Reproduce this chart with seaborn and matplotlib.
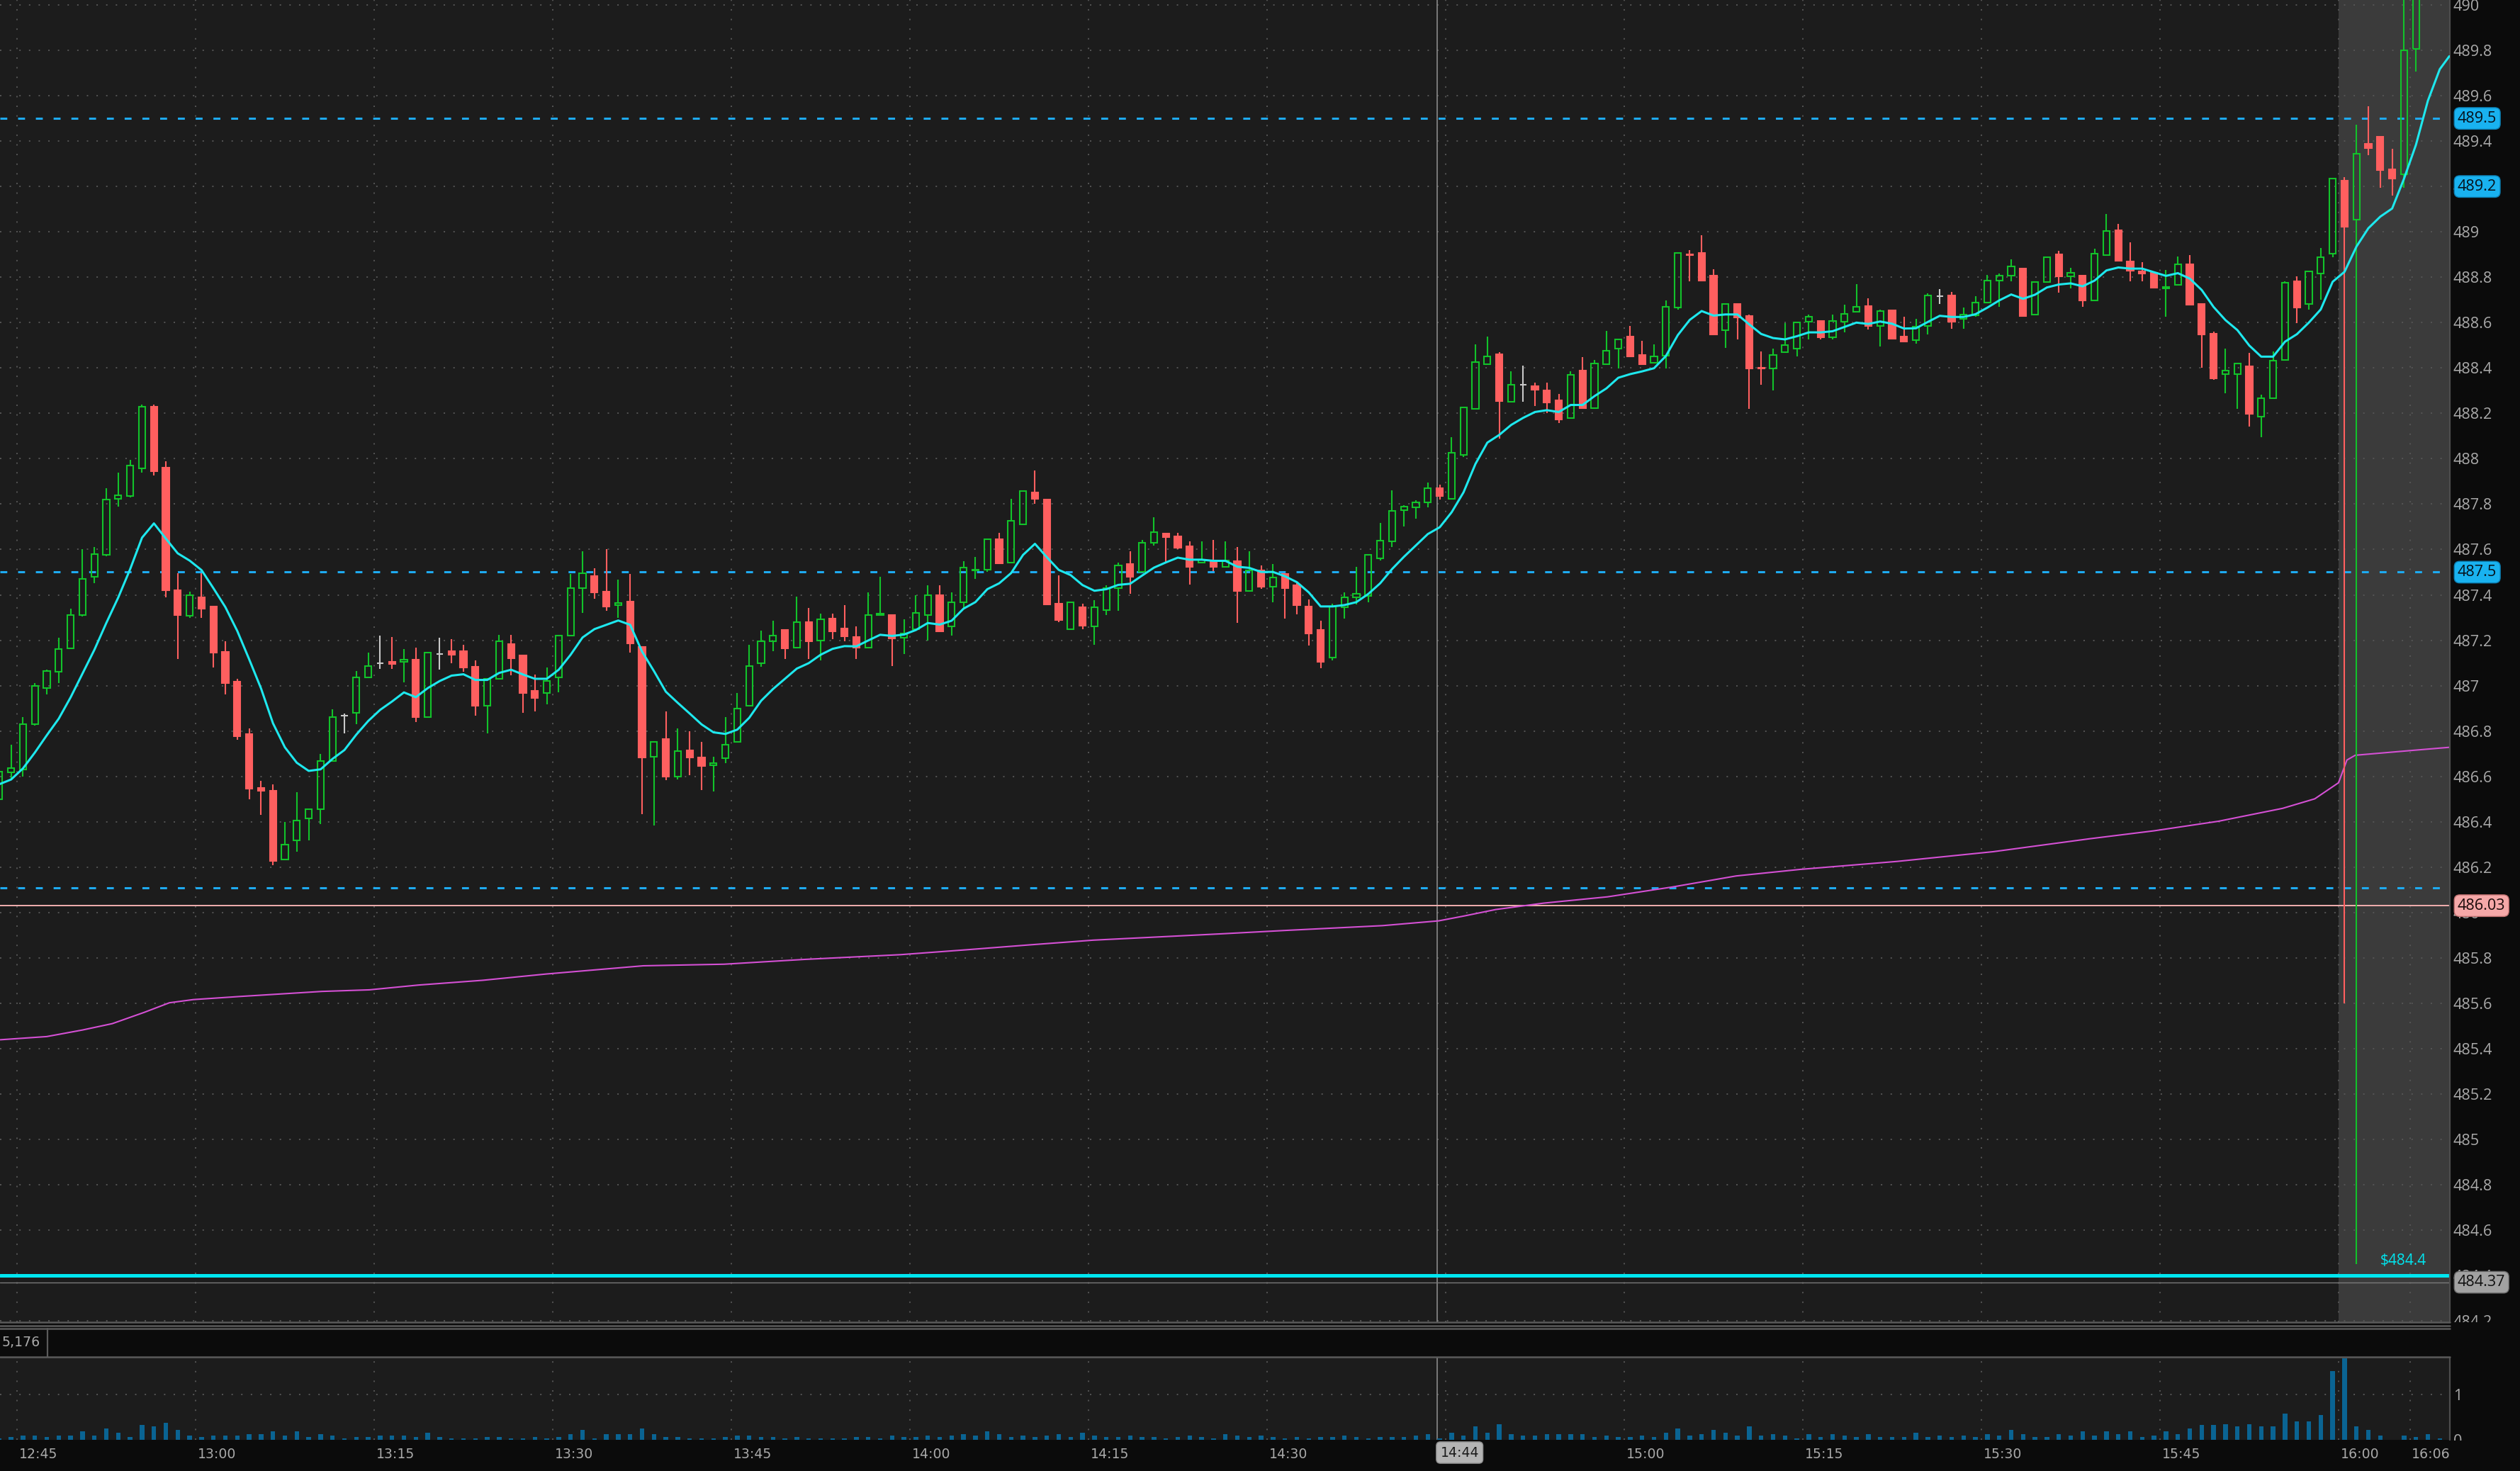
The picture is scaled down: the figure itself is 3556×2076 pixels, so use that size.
import numpy as np
import matplotlib
matplotlib.use("Agg")
import matplotlib.pyplot as plt
import matplotlib.transforms as mtransforms
from matplotlib.lines import Line2D
from matplotlib.patches import Rectangle
import seaborn as sns

# ──────────────────────────────────────────────────────────────
# Data  (x = minutes after 12:00, one-minute bars centred on .5)
# ──────────────────────────────────────────────────────────────
bar_x = np.arange(206) + 43.5          # 12:43 ... 16:08 bars

opens = [
    486.50, 486.617, 486.63, 486.83, 486.99, 487.06, 487.165, 487.31, 487.48, 487.576,
    487.822, 487.835, 487.957, 488.23, 487.96, 487.42, 487.308, 487.39, 487.348, 487.15,
    487.018, 486.787, 486.549, 486.537, 486.235, 486.317, 486.416, 486.454, 486.667, 486.868,
    486.879, 487.035, 487.098, 487.105, 487.105, 487.114, 486.861, 487.138, 487.152, 487.152,
    487.082, 486.91, 487.03, 487.183, 487.134, 486.976, 486.968, 487.035, 487.22, 487.431,
    487.483, 487.414, 487.355, 487.371, 487.171, 486.686, 486.765, 486.60, 486.715, 486.683,
    486.65, 486.681, 486.751, 486.912, 487.10, 487.194, 487.245, 487.167, 487.281, 487.198,
    487.295, 487.251, 487.214, 487.167, 487.31, 487.312, 487.211, 487.248, 487.31, 487.399,
    487.26, 487.366, 487.508, 487.51, 487.644, 487.542, 487.711, 487.85, 487.819, 487.362,
    487.248, 487.344, 487.26, 487.334, 487.43, 487.537, 487.50, 487.631, 487.67, 487.657,
    487.615, 487.542, 487.55, 487.522, 487.547, 487.418, 487.508, 487.437, 487.491, 487.441,
    487.347, 487.246, 487.123, 487.345, 487.389, 487.394, 487.562, 487.636, 487.774, 487.787,
    487.807, 487.87, 487.823, 488.017, 488.219, 488.418, 488.459, 488.25, 488.326, 488.321,
    488.302, 488.258, 488.18, 488.389, 488.224, 488.418, 488.485, 488.54, 488.458, 488.423,
    488.454, 488.667, 488.901, 488.907, 488.807, 488.568, 488.682, 488.628, 488.401, 488.399,
    488.469, 488.485, 488.605, 488.607, 488.536, 488.605, 488.649, 488.672, 488.586, 488.654,
    488.54, 488.524, 488.585, 488.718, 488.719, 488.617, 488.632, 488.687, 488.786, 488.806,
    488.837, 488.635, 488.778, 488.90, 488.804, 488.806, 488.698, 488.898, 489.007, 488.869,
    488.825, 488.82, 488.75, 488.768, 488.856, 488.682, 488.551, 488.372, 488.374, 488.406,
    488.187, 488.268, 488.434, 488.781, 488.681, 488.817, 488.903, 489.225, 489.055, 489.388,
    489.42, 489.274, 489.255, 489.806, 490.15, 490.30,
]
highs = [
    486.64, 486.74, 486.86, 487.01, 487.07, 487.21, 487.34, 487.60, 487.61, 487.87,
    487.94, 487.995, 488.24, 488.238, 487.99, 487.495, 487.414, 487.495, 487.35, 487.197,
    487.03, 486.81, 486.58, 486.565, 486.40, 486.53, 486.456, 486.70, 486.896, 486.876,
    487.063, 487.146, 487.22, 487.213, 487.16, 487.168, 487.15, 487.21, 487.204, 487.18,
    487.111, 487.032, 487.225, 487.225, 487.137, 487.05, 487.08, 487.22, 487.492, 487.593,
    487.518, 487.60, 487.468, 487.492, 487.172, 486.751, 486.886, 486.811, 486.80, 486.751,
    486.686, 486.861, 486.968, 487.18, 487.242, 487.285, 487.247, 487.392, 487.342, 487.316,
    487.316, 487.354, 487.26, 487.41, 487.479, 487.313, 487.292, 487.40, 487.443, 487.443,
    487.41, 487.548, 487.568, 487.645, 487.673, 487.824, 487.86, 487.948, 487.82, 487.485,
    487.368, 487.362, 487.378, 487.443, 487.542, 487.592, 487.642, 487.743, 487.672, 487.673,
    487.635, 487.635, 487.642, 487.635, 487.61, 487.592, 487.529, 487.536, 487.492, 487.451,
    487.38, 487.287, 487.362, 487.411, 487.524, 487.576, 487.717, 487.862, 487.795, 487.818,
    487.894, 487.886, 488.094, 488.23, 488.505, 488.538, 488.469, 488.386, 488.411, 488.336,
    488.336, 488.286, 488.386, 488.449, 488.435, 488.563, 488.528, 488.586, 488.519, 488.505,
    488.699, 488.909, 488.918, 488.985, 488.834, 488.685, 488.685, 488.636, 488.474, 488.485,
    488.599, 488.602, 488.636, 488.608, 488.636, 488.68, 488.769, 488.706, 488.656, 488.656,
    488.625, 488.618, 488.728, 488.749, 488.736, 488.667, 488.718, 488.809, 488.817, 488.879,
    488.838, 488.78, 488.89, 488.916, 488.841, 488.808, 488.927, 489.078, 489.035, 488.953,
    488.867, 488.821, 488.833, 488.891, 488.898, 488.683, 488.561, 488.486, 488.424, 488.466,
    488.283, 488.473, 488.783, 488.804, 488.828, 488.929, 489.237, 489.241, 489.472, 489.554,
    489.423, 489.366, 490.10, 490.25, 490.40, 490.45,
]
lows = [
    486.48, 486.586, 486.60, 486.825, 486.96, 487.01, 487.16, 487.305, 487.45, 487.57,
    487.79, 487.83, 487.94, 487.927, 487.39, 487.116, 487.297, 487.297, 487.08, 486.96,
    486.76, 486.50, 486.43, 486.207, 486.23, 486.268, 486.318, 486.39, 486.665, 486.788,
    486.83, 487.033, 487.074, 487.074, 487.015, 486.84, 486.86, 487.07, 487.10, 487.06,
    486.869, 486.788, 487.03, 487.044, 486.881, 486.887, 486.919, 486.97, 487.218, 487.319,
    487.382, 487.33, 487.30, 487.145, 486.433, 486.382, 486.582, 486.587, 486.606, 486.539,
    486.532, 486.657, 486.75, 486.91, 487.082, 487.152, 487.118, 487.165, 487.118, 487.112,
    487.206, 487.196, 487.118, 487.165, 487.31, 487.086, 487.139, 487.246, 487.198, 487.24,
    487.22, 487.34, 487.469, 487.503, 487.538, 487.54, 487.71, 487.80, 487.357, 487.279,
    487.248, 487.248, 487.18, 487.312, 487.331, 487.406, 487.498, 487.618, 487.545, 487.60,
    487.444, 487.54, 487.505, 487.52, 487.276, 487.415, 487.428, 487.366, 487.295, 487.314,
    487.177, 487.076, 487.112, 487.295, 487.359, 487.366, 487.55, 487.612, 487.701, 487.737,
    487.787, 487.819, 487.821, 488.008, 488.217, 488.416, 488.09, 488.248, 488.251, 488.232,
    488.201, 488.157, 488.178, 488.22, 488.222, 488.416, 488.399, 488.449, 488.415, 488.42,
    488.399, 488.656, 488.782, 488.784, 488.546, 488.49, 488.527, 488.22, 488.326, 488.302,
    488.467, 488.451, 488.526, 488.527, 488.527, 488.557, 488.646, 488.569, 488.495, 488.527,
    488.515, 488.506, 488.549, 488.681, 488.573, 488.573, 488.627, 488.686, 488.669, 488.781,
    488.628, 488.633, 488.775, 488.731, 488.75, 488.669, 488.696, 488.896, 488.869, 488.781,
    488.781, 488.753, 488.627, 488.766, 488.677, 488.40, 488.349, 488.289, 488.219, 488.143,
    488.096, 488.266, 488.432, 488.599, 488.656, 488.70, 488.887, 485.60, 484.45, 489.337,
    489.193, 489.16, 489.193, 489.705, 490.10, 490.20,
]
closes = [
    486.62, 486.635, 486.83, 487.00, 487.065, 487.16, 487.31, 487.47, 487.58, 487.82,
    487.84, 487.97, 488.228, 487.945, 487.42, 487.31, 487.397, 487.34, 487.146, 487.01,
    486.778, 486.547, 486.535, 486.226, 486.298, 486.405, 486.454, 486.667, 486.861, 486.868,
    487.035, 487.085, 487.098, 487.095, 487.114, 486.861, 487.145, 487.138, 487.136, 487.08,
    486.91, 487.03, 487.194, 487.122, 486.966, 486.947, 487.02, 487.22, 487.431, 487.494,
    487.41, 487.348, 487.364, 487.186, 486.684, 486.751, 486.598, 486.712, 486.684, 486.647,
    486.657, 486.739, 486.90, 487.087, 487.194, 487.22, 487.165, 487.281, 487.196, 487.293,
    487.24, 487.217, 487.167, 487.312, 487.318, 487.208, 487.229, 487.319, 487.399, 487.24,
    487.368, 487.519, 487.511, 487.644, 487.54, 487.725, 487.857, 487.823, 487.359, 487.29,
    487.368, 487.264, 487.344, 487.43, 487.531, 487.479, 487.631, 487.675, 487.654, 487.609,
    487.522, 487.555, 487.522, 487.55, 487.418, 487.508, 487.435, 487.477, 487.43, 487.354,
    487.229, 487.104, 487.347, 487.389, 487.406, 487.576, 487.639, 487.771, 487.79, 487.807,
    487.87, 487.836, 488.026, 488.227, 488.425, 488.451, 488.255, 488.326, 488.326, 488.305,
    488.248, 488.173, 488.37, 488.222, 488.42, 488.477, 488.526, 488.451, 488.417, 488.451,
    488.67, 488.907, 488.897, 488.786, 488.548, 488.682, 488.623, 488.399, 488.397, 488.456,
    488.501, 488.60, 488.626, 488.536, 488.607, 488.639, 488.67, 488.586, 488.652, 488.529,
    488.517, 488.583, 488.719, 488.718, 488.603, 488.635, 488.687, 488.786, 488.806, 488.849,
    488.629, 488.78, 488.887, 488.804, 488.818, 488.697, 488.905, 489.005, 488.872, 488.83,
    488.817, 488.754, 488.756, 488.856, 488.679, 488.547, 488.353, 488.388, 488.419, 488.198,
    488.268, 488.431, 488.775, 488.666, 488.825, 488.887, 489.235, 489.023, 489.343, 489.37,
    489.271, 489.235, 489.80, 490.15, 490.30, 490.35,
]
volume = [
    0.03,
    0.06, 0.10, 0.10, 0.06, 0.10, 0.10, 0.19, 0.10, 0.255, 0.16,
    0.06, 0.32, 0.29, 0.38, 0.22, 0.10, 0.06, 0.10, 0.10, 0.10,
    0.13, 0.13, 0.19, 0.10, 0.19, 0.06, 0.13, 0.10, 0.03, 0.06,
    0.06, 0.10, 0.10, 0.10, 0.06, 0.16, 0.06, 0.03, 0.03, 0.03,
    0.06, 0.06, 0.03, 0.03, 0.06, 0.03, 0.06, 0.13, 0.22, 0.03,
    0.13, 0.13, 0.13, 0.255, 0.13, 0.06, 0.06, 0.03, 0.03, 0.03,
    0.06, 0.10, 0.10, 0.06, 0.06, 0.03, 0.06, 0.03, 0.03, 0.03,
    0.03,
    0.06, 0.06, 0.03, 0.10, 0.06, 0.06, 0.10, 0.06, 0.10, 0.13,
    0.10, 0.19, 0.13, 0.06, 0.10, 0.06, 0.10, 0.13, 0.06, 0.16,
    0.10, 0.06, 0.06, 0.10, 0.06, 0.06, 0.03, 0.06, 0.10, 0.06,
    0.03, 0.13, 0.10, 0.06, 0.10, 0.06, 0.03, 0.06, 0.03, 0.06,
    0.06, 0.10,
    0.06, 0.03, 0.06, 0.06, 0.06, 0.10, 0.13, 0.03, 0.16, 0.10,
    0.29, 0.16, 0.35, 0.13, 0.10, 0.10, 0.13, 0.13, 0.13, 0.13,
    0.06, 0.10, 0.06, 0.06, 0.10, 0.06, 0.16, 0.255, 0.10, 0.13,
    0.22, 0.16, 0.10, 0.29, 0.10, 0.13, 0.10, 0.03, 0.13, 0.06,
    0.13, 0.10, 0.06, 0.13, 0.06, 0.06, 0.06, 0.16, 0.06, 0.10,
    0.06, 0.10, 0.06, 0.13, 0.10, 0.22, 0.13, 0.06, 0.06, 0.13,
    0.10, 0.19, 0.10, 0.19, 0.13, 0.19, 0.06, 0.10, 0.19, 0.13,
    0.255, 0.32, 0.32, 0.35, 0.29, 0.35, 0.29, 0.29, 0.57, 0.41,
    0.41, 0.54, 1.51, 1.79, 0.29, 0.22, 0.10, 0.0, 0.10, 0.06,
    0.13, 0.03,
]

# cyan moving average, read bar by bar (last point = right edge)
ema_x = list(bar_x) + [249.3]
ema_y = [
    486.565, 486.586, 486.635, 486.705, 486.781, 486.854, 486.948, 487.053, 487.158, 487.276,
    487.388, 487.513, 487.652, 487.715, 487.648, 487.583, 487.551, 487.509, 487.429, 487.346,
    487.241, 487.116, 486.987, 486.834, 486.728, 486.66, 486.624, 486.631, 486.677, 486.716,
    486.784, 486.844, 486.893, 486.93, 486.97, 486.949, 486.989, 487.02, 487.044, 487.05,
    487.025, 487.025, 487.056, 487.07, 487.049, 487.03, 487.03, 487.07, 487.136, 487.212,
    487.249, 487.268, 487.287, 487.268, 487.15, 487.064, 486.973, 486.924, 486.877, 486.829,
    486.794, 486.787, 486.806, 486.858, 486.933, 486.985, 487.03, 487.075, 487.099, 487.136,
    487.162, 487.174, 487.173, 487.199, 487.224, 487.219, 487.225, 487.245, 487.276, 487.269,
    487.286, 487.339, 487.368, 487.425, 487.451, 487.496, 487.576, 487.625, 487.566, 487.51,
    487.487, 487.443, 487.418, 487.425, 487.444, 487.449, 487.485, 487.52, 487.543, 487.564,
    487.555, 487.555, 487.55, 487.55, 487.524, 487.519, 487.501, 487.501, 487.482, 487.456,
    487.411, 487.349, 487.349, 487.355, 487.368, 487.404, 487.451, 487.514, 487.568, 487.618,
    487.668, 487.698, 487.764, 487.852, 487.977, 488.071, 488.105, 488.149, 488.18, 488.206,
    488.214, 488.206, 488.237, 488.237, 488.276, 488.31, 488.357, 488.373, 488.385, 488.399,
    488.453, 488.545, 488.612, 488.651, 488.631, 488.636, 488.636, 488.592, 488.55, 488.532,
    488.526, 488.54, 488.557, 488.557, 488.562, 488.581, 488.6, 488.594, 488.605, 488.595,
    488.574, 488.575, 488.603, 488.63, 488.625, 488.625, 488.637, 488.666, 488.698, 488.724,
    488.705, 488.723, 488.755, 488.768, 488.773, 488.76, 488.785, 488.83, 488.843, 488.838,
    488.838, 488.822, 488.806, 488.818, 488.794, 488.744, 488.669, 488.611, 488.567, 488.499,
    488.45, 488.45, 488.516, 488.549, 488.6, 488.658, 488.78, 488.824, 488.935, 489.016,
    489.067, 489.103, 489.235, 489.384, 489.578, 489.717, 489.774,
]

# magenta VWAP line, read at its bends
vwap_x = [43.6, 47.5, 50.5, 53.0, 55.7, 57.8, 59.8, 63.8, 70.6, 74.6, 78.7, 84.1, 89.5,
          97.6, 104.4, 111.1, 119.2, 124.6, 130.0, 135.4, 140.8, 146.2, 151.6, 159.7,
          164.4, 166.5, 169.2, 173.2, 178.6, 184.0, 189.4, 194.8, 202.9, 211.0, 219.1,
          224.5, 229.9, 235.3, 238.0, 240.0, 240.7, 241.4, 246.1, 249.3]
vwap_y = [485.439, 485.453, 485.482, 485.51, 485.56, 485.602, 485.616, 485.63, 485.652,
          485.659, 485.68, 485.701, 485.729, 485.765, 485.772, 485.793, 485.814, 485.835,
          485.857, 485.878, 485.892, 485.906, 485.921, 485.942, 485.963, 485.984, 486.013,
          486.041, 486.069, 486.112, 486.161, 486.19, 486.225, 486.268, 486.325, 486.36,
          486.402, 486.459, 486.501, 486.572, 486.672, 486.693, 486.714, 486.728]

price_ticks = [484.2, 484.4, 484.6, 484.8, 485.0, 485.2, 485.4, 485.6, 485.8, 486.0,
               486.2, 486.4, 486.6, 486.8, 487.0, 487.2, 487.4, 487.6, 487.8, 488.0,
               488.2, 488.4, 488.6, 488.8, 489.0, 489.2, 489.4, 489.6, 489.8, 490.0]
time_ticks = [45, 60, 75, 90, 105, 120, 135, 150, 165, 180, 195, 210, 225, 240, 246]
time_labels = ["12:45", "13:00", "13:15", "13:30", "13:45", "14:00", "14:15", "14:30",
               "", "15:00", "15:15", "15:30", "15:45", "16:00", "16:06"]

dashed_levels = [489.5, 487.5, 486.11]
blue_tags = [489.5, 489.2, 487.5]
pink_level = 486.03
last_level = 484.37
alert_level = 484.4
cursor_x = 164.3          # 14:44 crosshair
session_end = 240.0       # 16:00, after-hours shading starts

# ──────────────────────────────────────────────────────────────
# Style
# ──────────────────────────────────────────────────────────────
W, H, DPI = 3556, 2076, 200
FIG_BG = "#0b0b0b"
PANEL = "#1c1c1c"
SHADE = "#3b3b3b"
GRID = "#555555"
GREEN = "#12c22a"
RED = "#ff5f5f"
DOJI = "#c8c8c8"
CYAN = "#1ee8ee"
MAGENTA = "#d450d4"
BLUE = "#1eaaf0"
LABEL = "#a9a9a9"
XMIN, XMAX = 43.571, 249.345
YMIN, YMAX = 484.194, 490.022
TIME_FONT = ["DejaVu Sans"]

sns.set_theme(style="dark")
plt.rcParams["font.family"] = ["Open Sans", "DejaVu Sans"]


def rect(top, bottom, left=0, right=3457):
    return [left / W, 1 - bottom / H, (right - left) / W, (bottom - top) / H]


fig = plt.figure(figsize=(W / DPI, H / DPI), dpi=DPI, facecolor=FIG_BG)
ax = fig.add_axes(rect(0, 1866))
axv = fig.add_axes(rect(1916, 2032))

for a in (ax, axv):
    a.set_facecolor(PANEL)
    a.set_xlim(XMIN, XMAX)
    a.grid(False)
    for s in a.spines.values():
        s.set_visible(False)
    a.spines["right"].set_visible(True)
    a.spines["right"].set_color("#4d4d4d")
    a.spines["right"].set_linewidth(0.8)
    a.set_xticks([])
    a.yaxis.tick_right()
    a.tick_params(axis="y", length=0, pad=1.8, labelsize=7.8, labelcolor=LABEL)
    for t in time_ticks:
        a.axvline(t, color=GRID, lw=0.7, ls=(0, (1, 6)), zorder=0.6)

# ── price panel ─────────────────────────────────────────────
ax.set_ylim(YMIN, YMAX)
ax.set_yticks(price_ticks)
ax.set_yticklabels([f"{v:g}" for v in price_ticks])
ax.axvspan(session_end, XMAX, color=SHADE, lw=0, zorder=0.2)
for v in price_ticks:
    ax.axhline(v, color=GRID, lw=0.7, ls=(0, (1, 6)), zorder=0.6)

ax.axvline(cursor_x, color="#8a8a8a", lw=0.6, zorder=1)
axv.axvline(cursor_x, color="#8a8a8a", lw=0.6, zorder=1)

for lvl in dashed_levels:
    ax.axhline(lvl, color=BLUE, lw=1.1, ls=(0, (3.2, 5.0)), zorder=1.5)
ax.axhline(pink_level, color="#f2b0b0", lw=0.7, zorder=1.5)
ax.axhline(last_level, color="#7a7a7a", lw=0.5, zorder=1.5)
ax.axhline(alert_level, color="#00e6f0", lw=1.8, zorder=1.6)

sns.lineplot(x=vwap_x, y=vwap_y, ax=ax, color=MAGENTA, lw=0.75,
             sort=False, estimator=None, zorder=1.8)

# candles
o, h, l, c = map(np.asarray, (opens, highs, lows, closes))
top, bot = np.maximum(o, c), np.minimum(o, c)
up, dn, flat = c > o, c < o, c == o
BW = 0.55
for mask, col in ((up, GREEN), (dn, RED), (flat, DOJI)):
    ax.vlines(bar_x[mask], top[mask], h[mask], color=col, lw=0.75, zorder=3)
    ax.vlines(bar_x[mask], l[mask], bot[mask], color=col, lw=0.75, zorder=3)
ax.bar(bar_x[up], (c - o)[up], bottom=o[up], width=BW, facecolor="none",
       edgecolor=GREEN, linewidth=0.75, zorder=3)
ax.bar(bar_x[dn], (o - c)[dn], bottom=c[dn], width=BW, color=RED,
       edgecolor=RED, linewidth=0.75, zorder=3)
ax.hlines(c[flat], bar_x[flat] - BW / 2, bar_x[flat] + BW / 2, color=DOJI,
          lw=0.75, zorder=3)

sns.lineplot(x=ema_x, y=ema_y, ax=ax, color=CYAN, lw=1.1,
             sort=False, estimator=None, zorder=4)
ax.set_xlabel("")
ax.set_ylabel("")

ax.text(247.4, 484.432, "$484.4", color="#00e6f0", fontsize=7.5,
        ha="right", va="bottom", zorder=5)

# right-axis price tags (they sit over the plain tick labels, as in the source)
tag_tr = mtransforms.blended_transform_factory(ax.transAxes, ax.transData)
tag_x = 1 + 11 / 3457
for v in blue_tags:
    ax.text(tag_x, v, f"{v:g}", transform=tag_tr, fontsize=7.8, color="#06121c",
            ha="left", va="center", clip_on=False, zorder=10,
            bbox=dict(boxstyle="round,pad=0.22,rounding_size=0.35",
                      fc="#19b2f0", ec="#0c7fb3", lw=0.5))
ax.text(tag_x, pink_level, f"{pink_level:.2f}", transform=tag_tr, fontsize=7.8,
        color="#1a0a0a", ha="left", va="center", clip_on=False, zorder=10,
        bbox=dict(boxstyle="round,pad=0.22,rounding_size=0.35",
                  fc="#f5a8a8", ec="#c07070", lw=0.5))
ax.text(tag_x, last_level, f"{last_level:.2f}", transform=tag_tr, fontsize=7.8,
        color="#101010", ha="left", va="center", clip_on=False, zorder=10,
        bbox=dict(boxstyle="round,pad=0.22,rounding_size=0.35",
                  fc="#a2a2a2", ec="#6a6a6a", lw=0.5))

# ── volume panel ────────────────────────────────────────────
axv.set_ylim(0, 1.81)
axv.set_yticks([0, 1])
axv.set_yticklabels(["0", "1"])
axv.axhline(1, color=GRID, lw=0.7, ls=(0, (1, 6)), zorder=0.6)
axv.bar(bar_x, volume, width=0.38, color="#0a6493", lw=0, zorder=2)

# ── separator strip / bottom band ───────────────────────────
fig.add_artist(Rectangle((0, 1 - 1916 / H), 1, 50 / H, transform=fig.transFigure,
                         fc=FIG_BG, ec="none", zorder=5))
fig.add_artist(Rectangle((0, 0), 1, 43 / H, transform=fig.transFigure,
                         fc=FIG_BG, ec="none", zorder=5))
for yy in (1866, 1871, 1875, 1915):
    fig.add_artist(Line2D([0, 3457 / W], [1 - yy / H] * 2, transform=fig.transFigure,
                          color="#5a5a5a", lw=0.9, zorder=6))
fig.add_artist(Line2D([67 / W] * 2, [1 - 1875 / H, 1 - 1915 / H],
                      transform=fig.transFigure, color="#5a5a5a", lw=0.8, zorder=6))
fig.text(57 / W, 1 - 1895 / H, "5,176", color=LABEL, fontsize=6.8, family=TIME_FONT,
         ha="right", va="center", zorder=7)

# time axis labels
time_tr = mtransforms.blended_transform_factory(axv.transData, fig.transFigure)
for t, lab in zip(time_ticks, time_labels):
    if lab:
        fig.text(t + 0.15, 1 - 2053 / H, lab, transform=time_tr, color=LABEL,
                 fontsize=6.8, family=TIME_FONT, ha="left", va="center", zorder=8)
fig.text(cursor_x + 0.25, 1 - 2050 / H, "14:44", transform=time_tr, color="#1a1a1a",
         fontsize=6.8, family=TIME_FONT, ha="left", va="center", zorder=9,
         bbox=dict(boxstyle="round,pad=0.3,rounding_size=0.3", fc="#b4b4b4",
                   ec="#8a8a8a", lw=0.5))

fig.savefig("out.png", dpi=DPI, facecolor=FIG_BG)
